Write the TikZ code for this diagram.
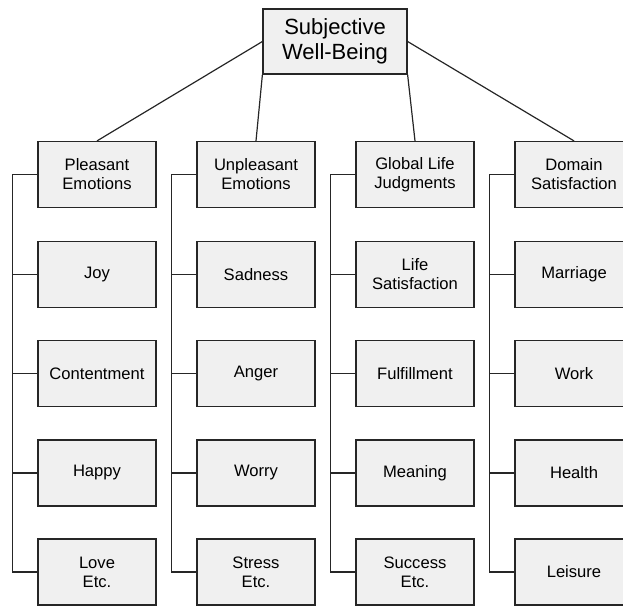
\documentclass[tikz,border=0pt]{standalone}
\usepackage{fontspec}
\setmainfont{Liberation Sans}
\usepackage{tikz}

\begin{document}
\begin{tikzpicture}[x=1pt, y=-1pt, line width=1.2pt, draw=black!85,
    topbox/.style={draw, fill=black!6, minimum width=144pt, minimum height=65pt,
        align=center, inner sep=0pt, font=\fontsize{22}{25}\selectfont},
    itembox/.style={draw, fill=black!6, minimum width=118pt, minimum height=66pt,
        align=center, inner sep=0pt, font=\fontsize{16.6}{19}\selectfont}]
            \useasboundingbox (0,0) rectangle (623,606);
            \clip (0,0) rectangle (623,606);

            \node[topbox] (swb) at (335, 41.5) {Subjective\\Well-Being};

            % column heads
            \node[itembox] (pe) at (97, 174.5) {Pleasant\\Emotions};
            \node[itembox] (ue) at (256, 174.5) {Unpleasant\\Emotions};
            \node[itembox] (gl) at (415, 174.5) {Global Life\\Judgments};
            \node[itembox] (ds) at (574, 174.5) {Domain\\Satisfaction};

            \draw (swb.west) -- (pe.north);
            \draw (swb.south west) -- (ue.north);
            \draw (swb.south east) -- (gl.north);
            \draw (swb.east) -- (ds.north);

            % pleasant emotions
            \node[itembox] (joy) at (97, 274.5) {Joy};
            \node[itembox] (cont) at (97, 373.5) {Contentment};
            \node[itembox] (happy) at (97, 473) {Happy};
            \node[itembox] (love) at (97, 572) {Love\\Etc.};
            \draw (pe.west) -- ++(-25,0) |- (love.west);
            \draw (joy.west) -- ++(-25,0);
            \draw (cont.west) -- ++(-25,0);
            \draw (happy.west) -- ++(-25,0);

            % unpleasant emotions
            \node[itembox] (sad) at (256, 274.5) {Sadness};
            \node[itembox] (anger) at (256, 373.5) {Anger};
            \node[itembox] (worry) at (256, 473) {Worry};
            \node[itembox] (stress) at (256, 572) {Stress\\Etc.};
            \draw (ue.west) -- ++(-25,0) |- (stress.west);
            \draw (sad.west) -- ++(-25,0);
            \draw (anger.west) -- ++(-25,0);
            \draw (worry.west) -- ++(-25,0);

            % global life judgments
            \node[itembox] (lifesat) at (415, 274.5) {Life\\Satisfaction};
            \node[itembox] (fulfil) at (415, 373.5) {Fulfillment};
            \node[itembox] (mean) at (415, 473) {Meaning};
            \node[itembox] (succ) at (415, 572) {Success\\Etc.};
            \draw (gl.west) -- ++(-25,0) |- (succ.west);
            \draw (lifesat.west) -- ++(-25,0);
            \draw (fulfil.west) -- ++(-25,0);
            \draw (mean.west) -- ++(-25,0);

            % domain satisfaction
            \node[itembox] (marr) at (574, 274.5) {Marriage};
            \node[itembox] (work) at (574, 373.5) {Work};
            \node[itembox] (health) at (574, 473) {Health};
            \node[itembox] (leis) at (574, 572) {Leisure};
            \draw (ds.west) -- ++(-25,0) |- (leis.west);
            \draw (marr.west) -- ++(-25,0);
            \draw (work.west) -- ++(-25,0);
            \draw (health.west) -- ++(-25,0);

\end{tikzpicture}
\end{document}
